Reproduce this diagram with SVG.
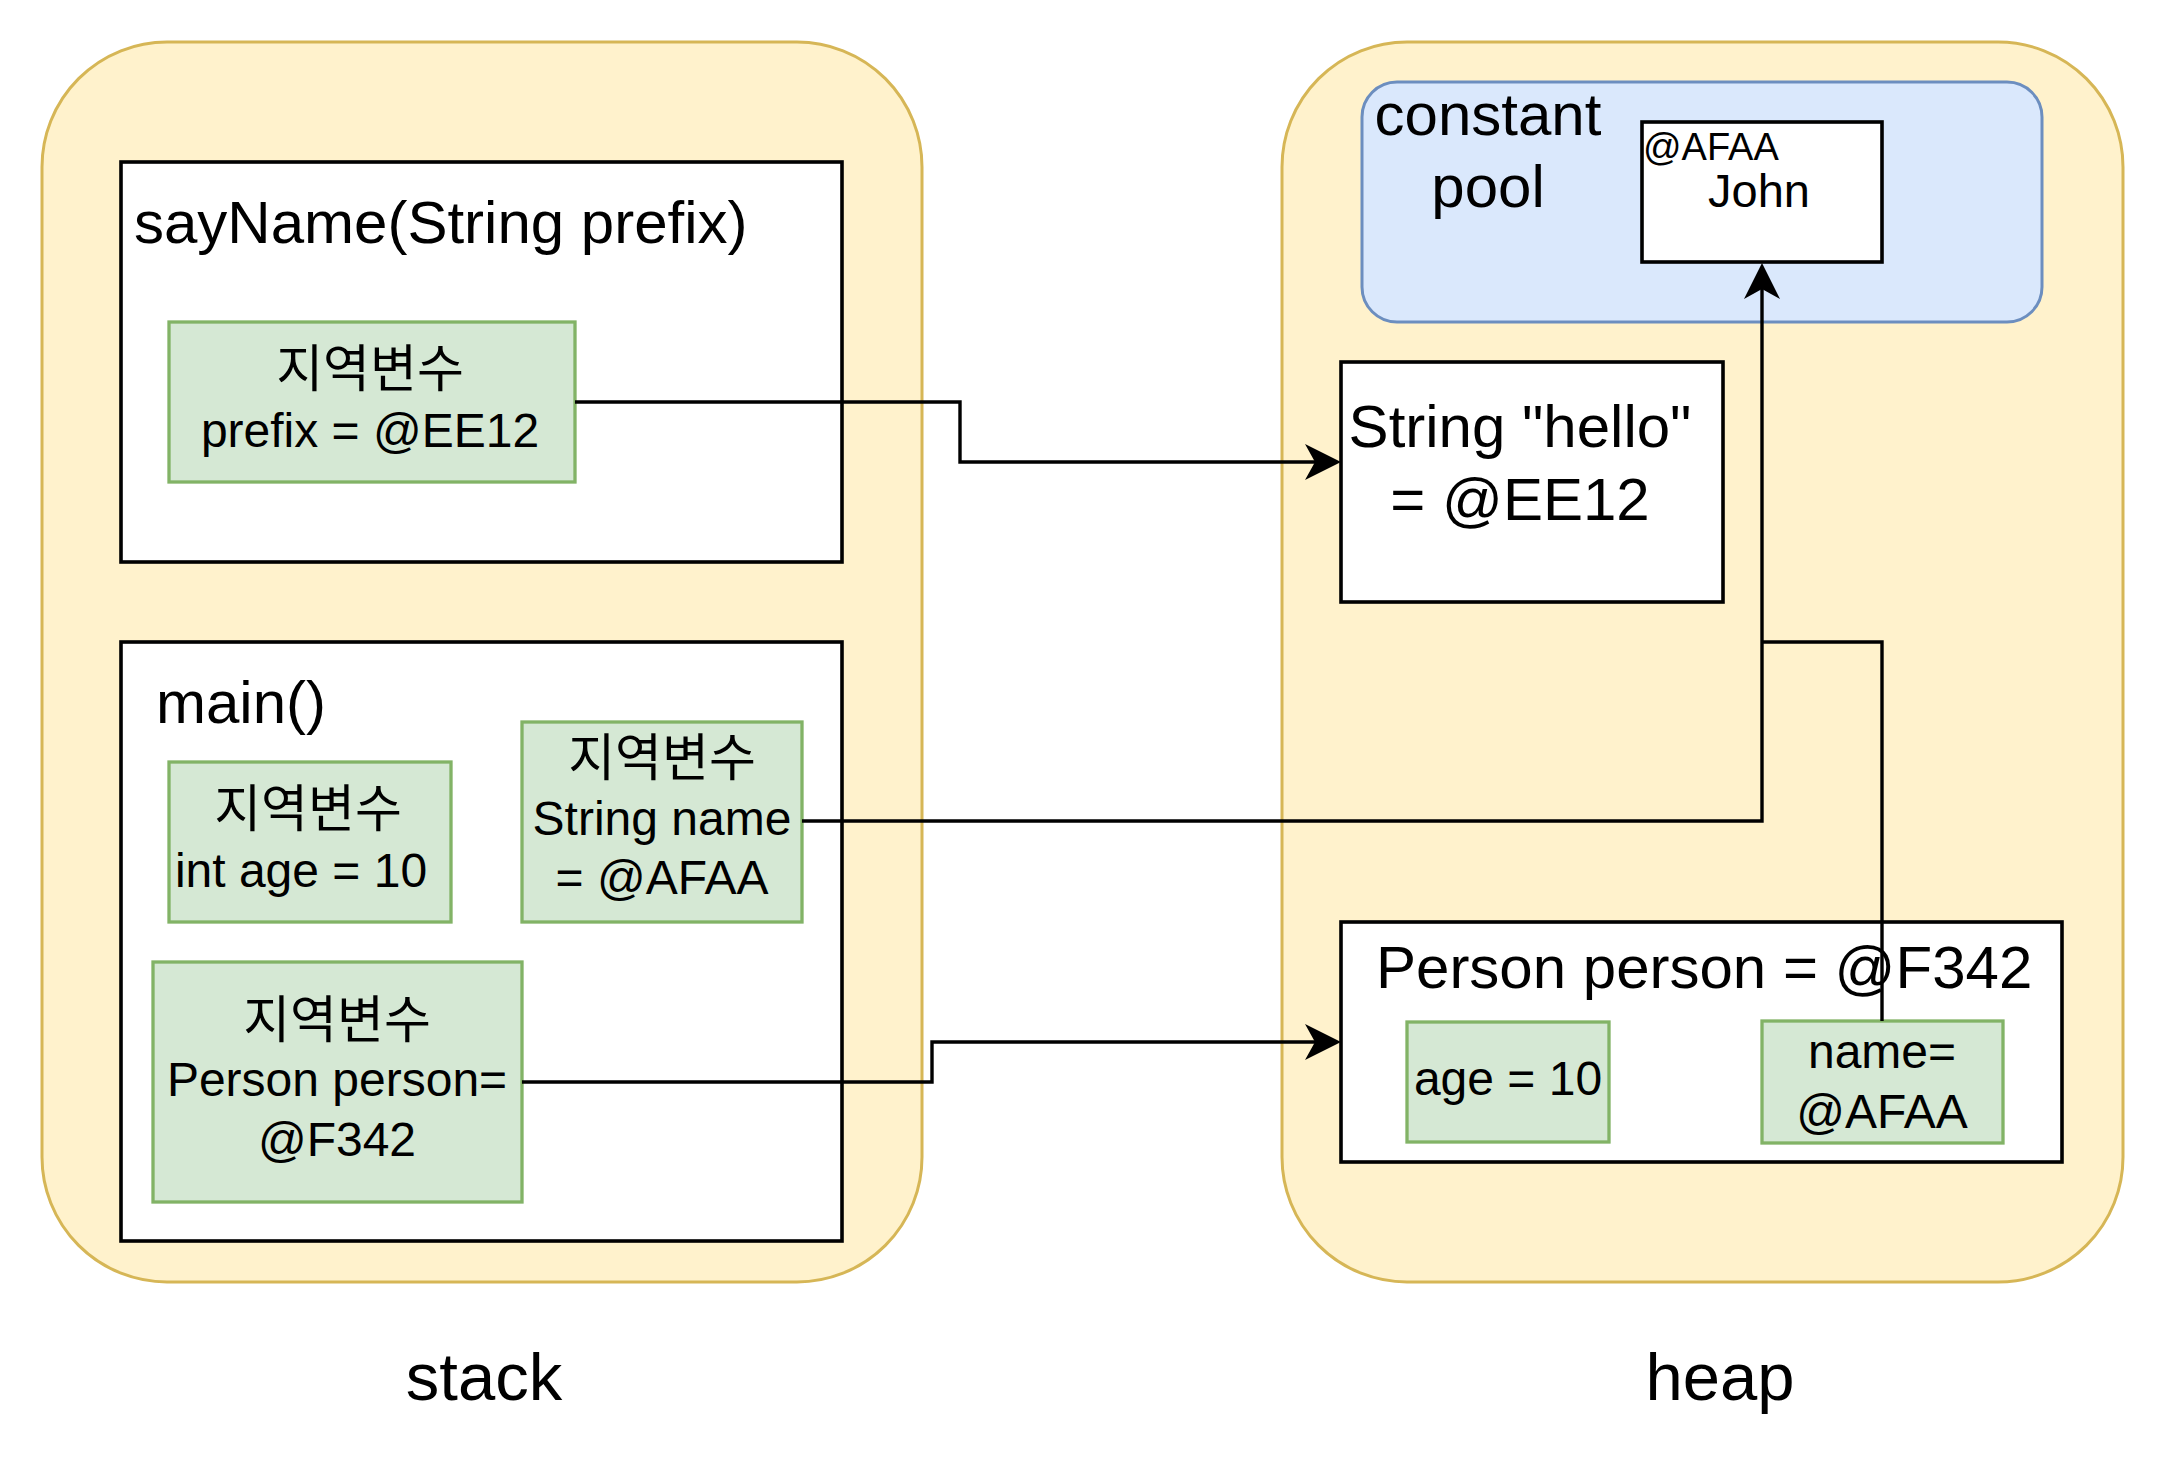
<svg xmlns="http://www.w3.org/2000/svg" width="2164" height="1484" viewBox="0 0 2164 1484">
<defs>
<style>
.area{fill:#fff2cc;stroke:#d6b656;stroke-width:3}
.pool{fill:#dae8fc;stroke:#6c8ebf;stroke-width:3}
.box{fill:#ffffff;stroke:#000000;stroke-width:3.6}
.var{fill:#d5e8d4;stroke:#82b366;stroke-width:3.3}
.edge{fill:none;stroke:#000000;stroke-width:3.4}
text{font-family:"Liberation Sans","Noto Sans CJK KR",sans-serif;fill:#000000}
.big{font-size:60px}
.mid{font-size:48px}
.kr{font-size:51px}
.c{text-anchor:middle}
</style>
<marker id="arrow" viewBox="0 0 36 36" refX="26" refY="18" markerWidth="36" markerHeight="36" markerUnits="userSpaceOnUse" orient="auto">
<path d="M0,0 L36,18 L0,36 L10,18 Z" fill="#000000"/>
</marker>
</defs>
<g id="stack">
<rect class="area" x="42" y="42" width="880" height="1240" rx="125" ry="125"/>
<text class="c" x="484" y="1400" font-size="67">stack</text>
</g>
<g id="heap">
<rect class="area" x="1282" y="42" width="841" height="1240" rx="125" ry="125"/>
<text class="c" x="1720" y="1400" font-size="67">heap</text>
</g>
<g id="constant-pool">
<rect class="pool" x="1362" y="82" width="680" height="240" rx="35" ry="35"/>
<text class="big c" x="1488" y="135">constant</text>
<text class="big c" x="1488" y="207">pool</text>
</g>
<g id="john">
<rect class="box" x="1642" y="122" width="240" height="140"/>
<text x="1643" y="160" font-size="38">@AFAA</text>
<text class="c" x="1759" y="207" font-size="47">John</text>
</g>
<g id="sayName">
<rect class="box" x="121" y="162" width="721" height="400"/>
<text class="big" x="134" y="243">sayName(String prefix)</text>
</g>
<g id="prefix">
<rect class="var" x="169" y="322" width="406" height="160"/>
<text class="kr c" x="370" y="387">지역변수</text>
<text class="mid c" x="370" y="447">prefix = @EE12</text>
</g>
<g id="main">
<rect class="box" x="121" y="642" width="721" height="599"/>
<text class="big" x="156" y="723">main()</text>
</g>
<g id="int-age">
<rect class="var" x="169" y="762" width="282" height="160"/>
<text class="kr c" x="308" y="827">지역변수</text>
<text class="mid c" x="301" y="887">int age = 10</text>
</g>
<g id="string-name">
<rect class="var" x="522" y="722" width="280" height="200"/>
<text class="kr c" x="662" y="776">지역변수</text>
<text class="mid c" x="662" y="835">String name</text>
<text class="mid c" x="662" y="894">= @AFAA</text>
</g>
<g id="person-var">
<rect class="var" x="153" y="962" width="369" height="240"/>
<text class="kr c" x="337" y="1038">지역변수</text>
<text class="mid c" x="337" y="1096">Person person=</text>
<text class="mid c" x="337" y="1156">@F342</text>
</g>
<g id="string-hello">
<rect class="box" x="1341" y="362" width="382" height="240"/>
<text class="c" x="1520" y="447" font-size="60">String "hello"</text>
<text class="c" x="1520" y="520" font-size="60">= @EE12</text>
</g>
<g id="person-obj">
<rect class="box" x="1341" y="922" width="721" height="240"/>
<text x="1376" y="988" font-size="60">Person person = @F342</text>
</g>
<g id="age-field">
<rect class="var" x="1407" y="1022" width="202" height="120"/>
<text class="mid c" x="1508" y="1095">age = 10</text>
</g>
<g id="name-field">
<rect class="var" x="1762" y="1021" width="241" height="122"/>
<text class="mid c" x="1882" y="1068">name=</text>
<text class="mid c" x="1882" y="1128">@AFAA</text>
</g>
<g id="connectors">
<path class="edge" d="M575,402 H960 V462 H1331" marker-end="url(#arrow)"/>
<path class="edge" d="M802,821 H1762 V273" marker-end="url(#arrow)"/>
<path class="edge" d="M1882,1021 V642 H1762"/>
<path class="edge" d="M522,1082 H932 V1042 H1331" marker-end="url(#arrow)"/>
</g>
</svg>
